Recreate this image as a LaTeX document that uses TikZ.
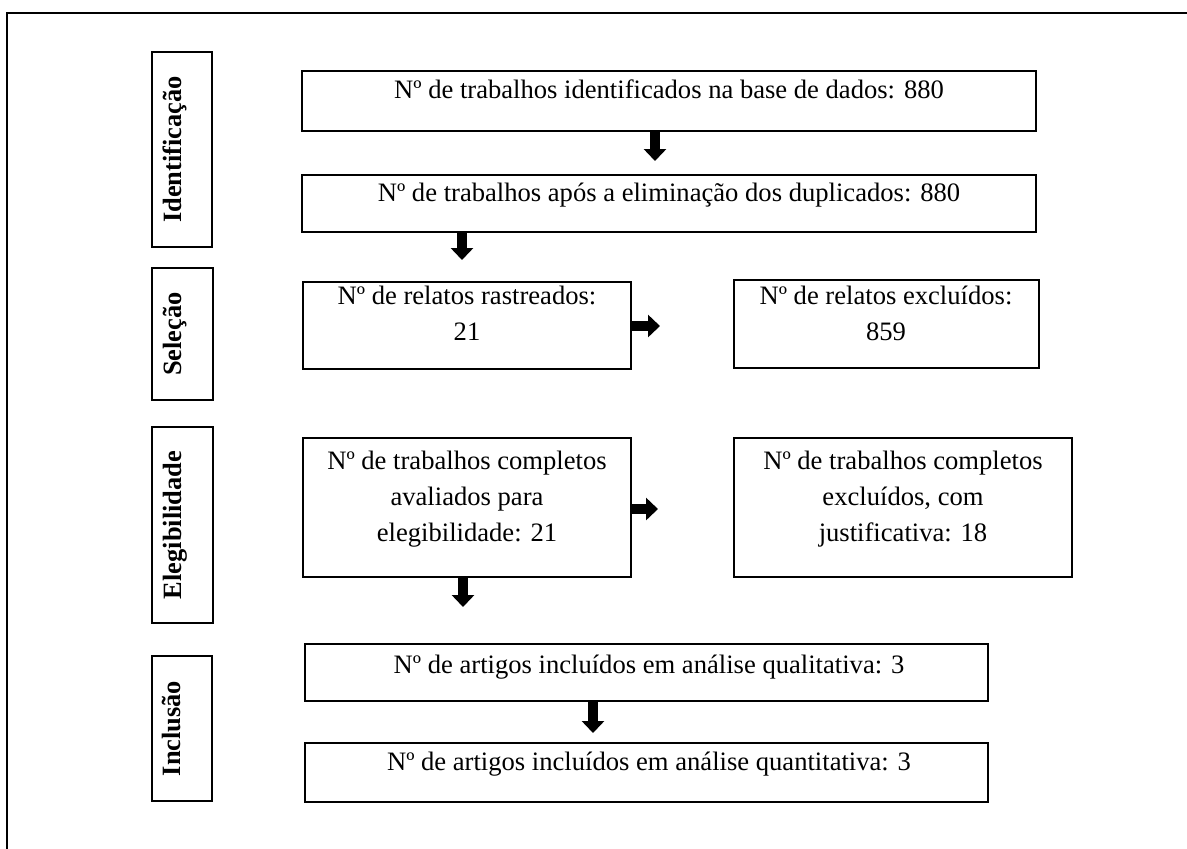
\documentclass[tikz,border=0pt]{standalone}
\usepackage{fontspec}
\setmainfont{Liberation Serif}
\usetikzlibrary{arrows.meta,fit}
\begin{document}
\begin{tikzpicture}[x=0.5pt,y=-0.5pt,
  box/.style={draw, line width=1.1pt, inner sep=0pt, rectangle},
  txt/.style={inner sep=0pt, align=center, anchor=base, font=\fontsize{13.3}{18}\selectfont},
  labtxt/.style={inner sep=0pt, rotate=90, anchor=base, font=\bfseries\fontsize{13.2}{15}\selectfont},
  blk/.style={line width=5pt, -{Triangle[width=11pt,length=6pt]}}]
\useasboundingbox (0,0) rectangle (1187,848);
% outer frame
\draw[line width=1.3pt] (7,870) -- (7,13) -- (1200,13);
% stage labels
\node[box, fit={(152,52) (212,247)}] (L1) {};
\node[labtxt] (L1t) at ([xshift=-0.5pt]L1.center) {Identificação};
\node[box, fit={(152,268) (213,400)}] (L2) {};
\node[labtxt] (L2t) at ([xshift=-0.5pt]L2.center) {Seleção};
\node[box, fit={(152,427) (213,623)}] (L3) {};
\node[labtxt] (L3t) at ([xshift=-0.5pt]L3.center) {Elegibilidade};
\node[box, fit={(152,656) (212,801)}] (L4) {};
\node[labtxt] (L4t) at ([xshift=-1pt]L4.center) {Inclusão};
% boxes
\node[box, fit={(302,71) (1036,131)}] (b1) {};
\node[txt] (b1t) at (669,98) {Nº de trabalhos identificados na base de dados: 880};
\node[box, fit={(302,175) (1036,232)}] (b2) {};
\node[txt] (b2t) at (669,201) {Nº de trabalhos após a eliminação dos duplicados: 880};
\node[box, fit={(303,282) (631,369)}] (b3) {};
\node[txt] (b3t) at (467,340) {Nº de relatos rastreados:\\21};
\node[box, fit={(734,280) (1039,368)}] (b4) {};
\node[txt] (b4t) at (886,340) {Nº de relatos excluídos:\\859};
\node[box, fit={(303,438) (631,577)}] (b5) {};
\node[txt] (b5t) at (467,541) {Nº de trabalhos completos\\avaliados para\\elegibilidade: 21};
\node[box, fit={(734,438) (1072,577)}] (b6) {};
\node[txt] (b6t) at (903,541) {Nº de trabalhos completos\\excluídos, com\\justificativa: 18};
\node[box, fit={(305,644) (988,701)}] (b7) {};
\node[txt] (b7t) at (649,673) {Nº de artigos incluídos em análise qualitativa: 3};
\node[box, fit={(305,743) (988,802)}] (b8) {};
\node[txt] (b8t) at (649,770) {Nº de artigos incluídos em análise quantitativa: 3};
% arrows
\coordinate (e1) at (655,161);
\draw[blk] (b1.south -| e1) -- (e1);
\coordinate (e2) at (462,260);
\draw[blk] (b2.south -| e2) -- (e2);
\coordinate (e3) at (660,326);
\draw[blk] (b3.east |- e3) -- (e3);
\coordinate (e4) at (658,509);
\draw[blk] (b5.east |- e4) -- (e4);
\coordinate (e5) at (463,607);
\draw[blk] (b5.south -| e5) -- (e5);
\coordinate (e6) at (593,733);
\draw[blk] (b7.south -| e6) -- (e6);
\end{tikzpicture}
\end{document}
